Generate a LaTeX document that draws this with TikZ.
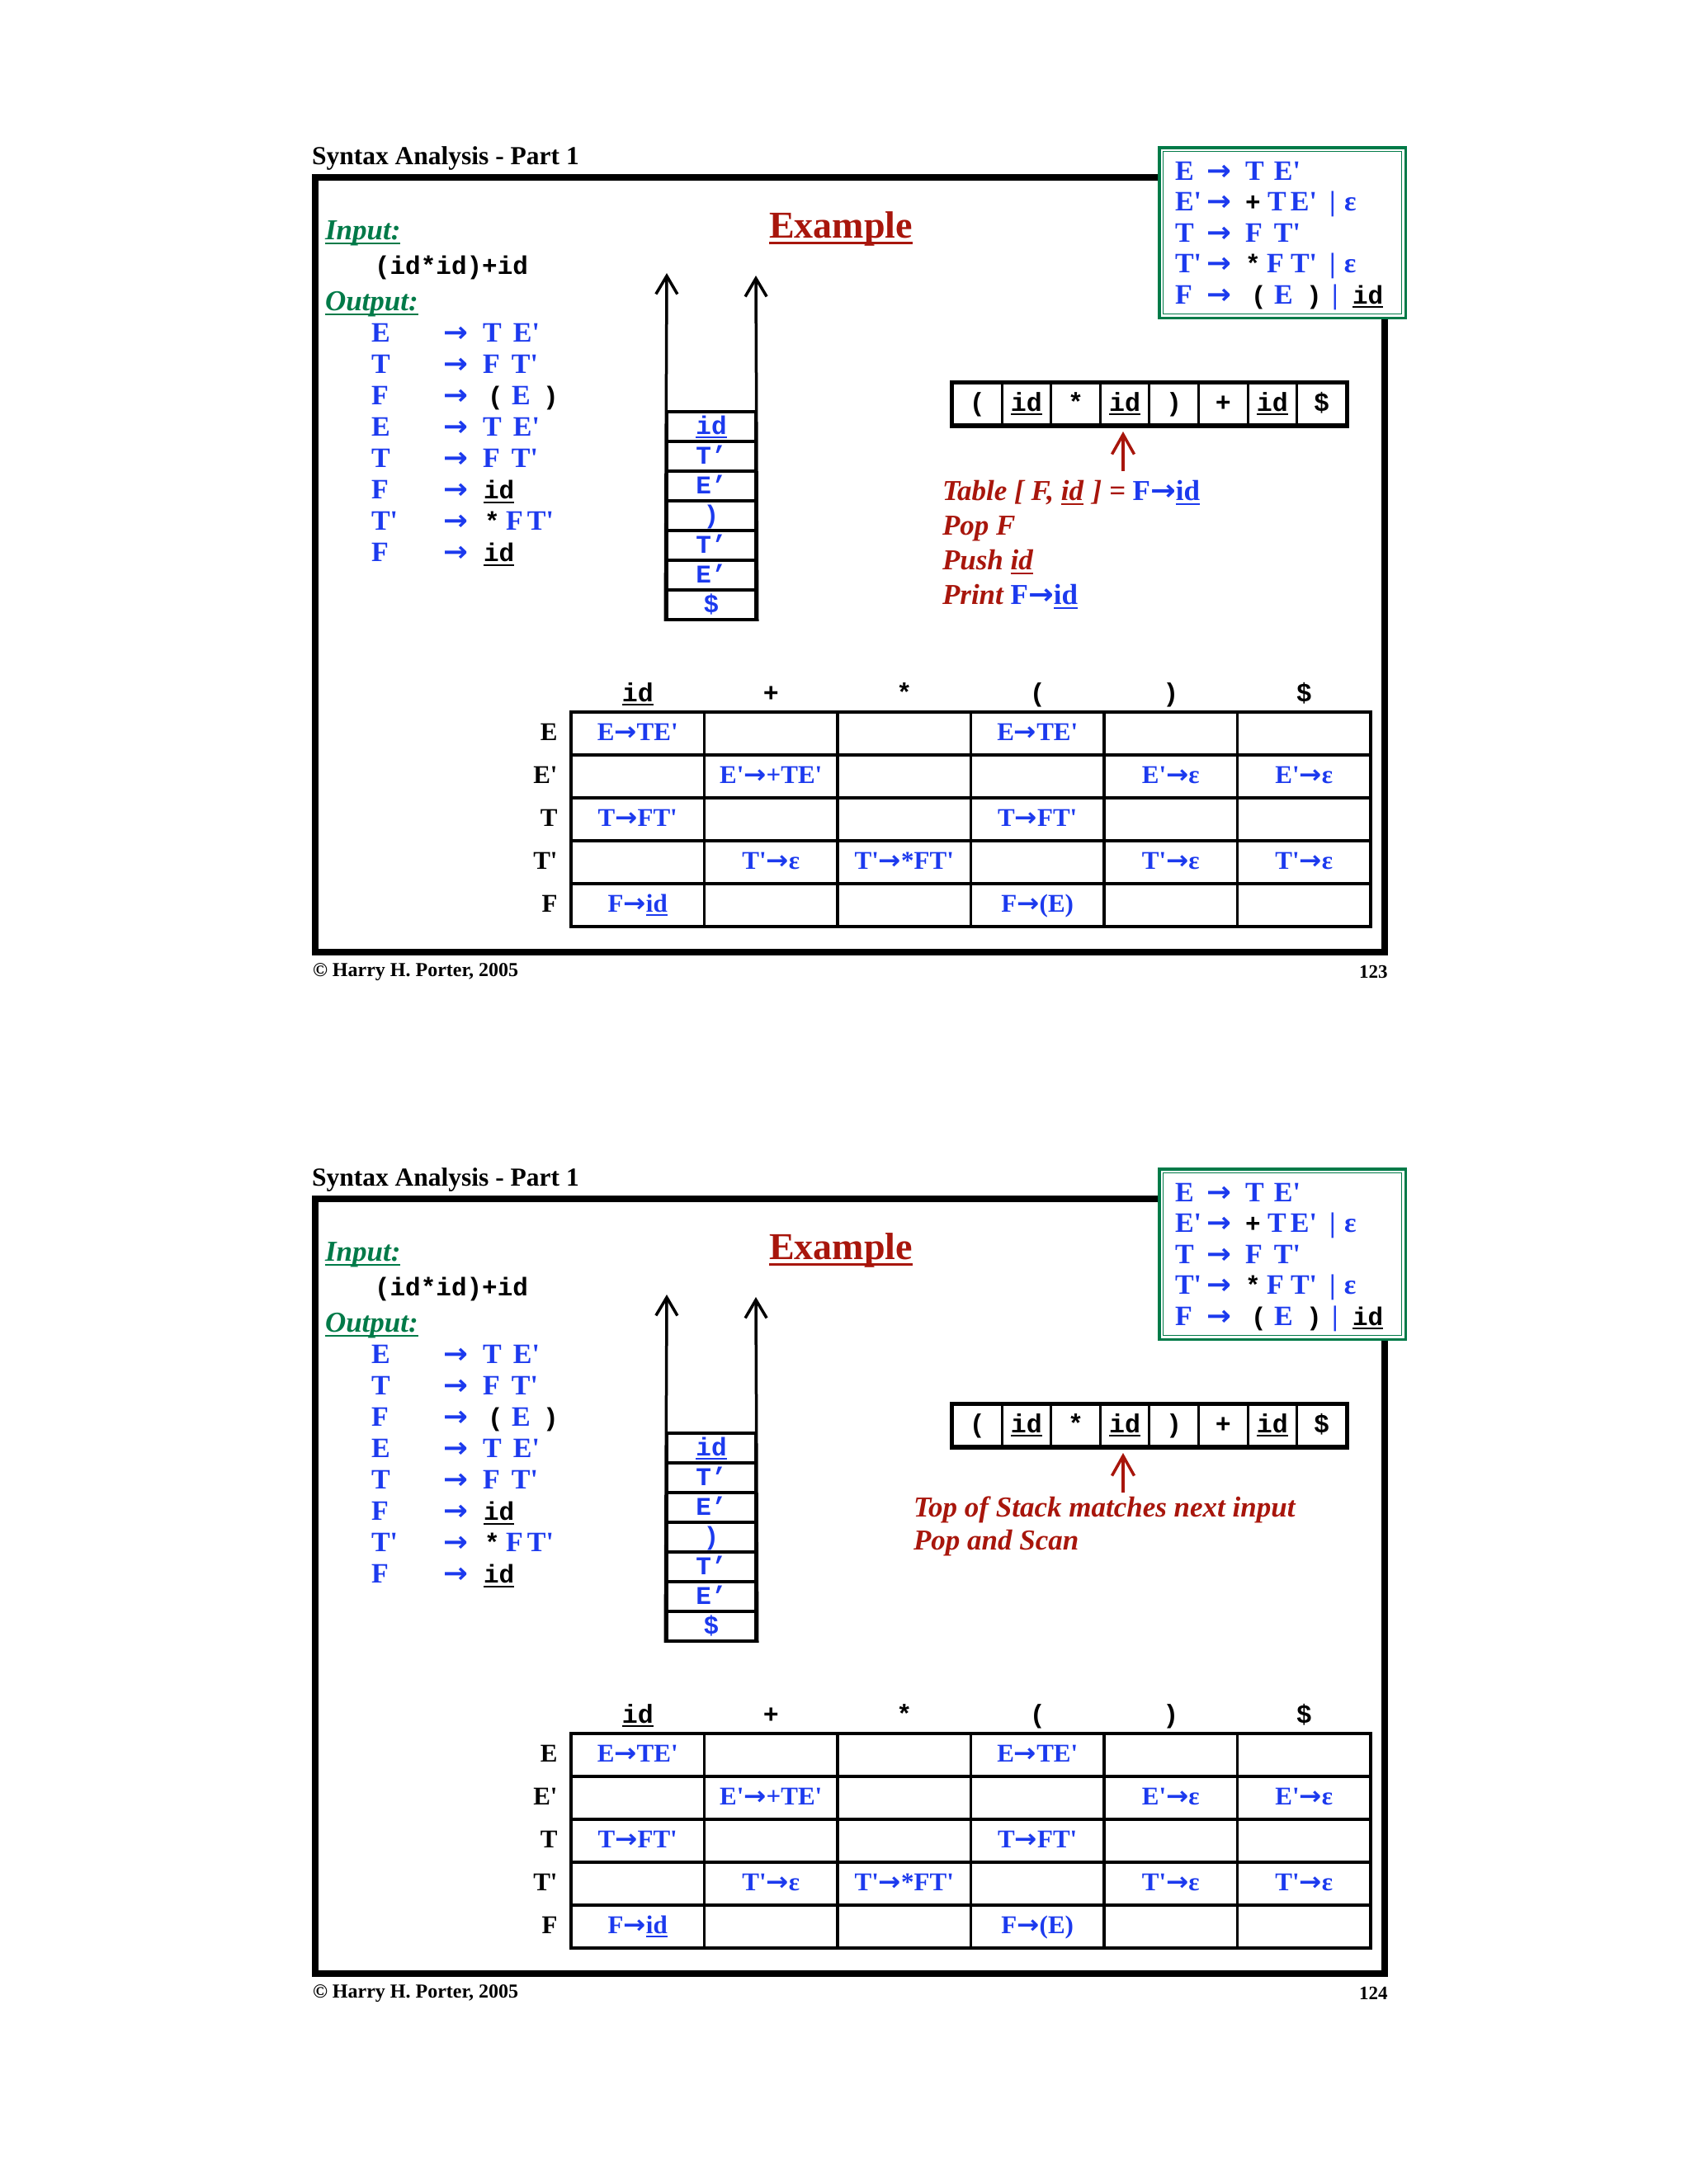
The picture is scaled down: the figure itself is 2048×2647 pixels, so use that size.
\documentclass[tikz,border=0pt]{standalone}
\usepackage{fontspec}
\usepackage{amsmath}
\usepackage{graphicx}
\usetikzlibrary{arrows.meta}
\newfontfamily\tms{Liberation Serif}
\newfontfamily\mon{Liberation Mono}
\newfontfamily\djv{DejaVu Sans}
\definecolor{pblue}{RGB}{28,58,238}
\definecolor{pred}{RGB}{168,22,12}
\definecolor{pgreen}{RGB}{0,122,72}
\newdimen\pxu \pxu=0.5pt
\newcommand\fsz[1]{\fontsize{#1}{#1}\selectfont}
\newcommand\und[1]{\setbox0\hbox{#1}\rlap{\rule[-0.17em]{\wd0}{0.065em}}\box0}
\newcommand\at[2]{\rlap{\hspace*{#1\pxu}#2}}
\newcommand\arr{\scalebox{1.05}[1]{\djv\bfseries →}}
\newcommand\mt{\color{black}\mon\fsz{15.5}}
\tikzset{
 lbl/.style={inner sep=0pt, outer sep=0pt, anchor=base west},
 slideframe/.style={line width=4pt},
 prod/.style={lbl, font=\tms\bfseries\fsz{17}, text=pblue},
 stkcell/.style={draw, line width=1.75pt, minimum width=54pt, minimum height=18pt, inner sep=0pt, text height=10pt, text depth=1pt, font=\mon\bfseries\fsz{15.5}, text=pblue},
 stkwall/.style={line width=1.75pt, -{Straight Barb[length=11pt,width=13pt]}},
 tapecell/.style={draw, line width=1.5pt, minimum width=29.8pt, minimum height=25pt, inner sep=0pt, text height=10pt, text depth=1.5pt, font=\mon\bfseries\fsz{15.8}},
 tcell/.style={draw, line width=1.75pt, minimum width=80.75pt, minimum height=26pt, inner sep=0pt, text height=9pt, text depth=1pt, font=\tms\bfseries\fsz{15.5}, text=pblue},
 thead/.style={inner sep=0pt, anchor=base, font=\mon\bfseries\fsz{15.8}},
 rlab/.style={inner sep=0pt, anchor=base east, font=\tms\bfseries\fsz{15.5}},
 redtxt/.style={lbl, font=\tms\bfseries\itshape\fsz{17.5}, text=pred},
 redarrow/.style={draw=pred, line width=1.75pt, -{Straight Barb[length=12pt,width=13.5pt]}},
}
\newcommand\slidecommon{%
 \node[lbl, font=\tms\bfseries\fsz{15.75}] (title) at (378,199) {Syntax Analysis - Part 1};
 \draw[slideframe] (382,215) rectangle (1678,1153.5);
 \node[lbl, font=\tms\bfseries\itshape\fsz{17.5}, text=pgreen] (inp) at (394,290) {\und{Input:}};
 \node[lbl, font=\mon\bfseries\fsz{15.5}] (inpstr) at (454,332) {(id*id)+id};
 \node[lbl, font=\tms\bfseries\itshape\fsz{17.5}, text=pgreen] (outp) at (394,376) {\und{Output:}};
 \node[prod] (p0) at (449,414) {\at{0}{E}\at{87}{\arr}\at{135}{T}\at{172}{E'}};
 \node[prod] (p1) at (449,452.1) {\at{0}{T}\at{87}{\arr}\at{135}{F}\at{170}{T'}};
 \node[prod] (p2) at (449,490.2) {\at{0}{F}\at{87}{\arr}\at{141}{\mt(}\at{170}{E}\at{208}{\mt)}};
 \node[prod] (p3) at (449,528.3) {\at{0}{E}\at{87}{\arr}\at{135}{T}\at{172}{E'}};
 \node[prod] (p4) at (449,566.4) {\at{0}{T}\at{87}{\arr}\at{135}{F}\at{170}{T'}};
 \node[prod] (p5) at (449,604.5) {\at{0}{F}\at{87}{\arr}\at{136}{\mt\und{id}}};
 \node[prod] (p6) at (449,642.6) {\at{0}{T'}\at{87}{\arr}\at{137}{\mt*}\at{163}{F}\at{189}{T'}};
 \node[prod] (p7) at (449,680.7) {\at{0}{F}\at{87}{\arr}\at{136}{\mt\und{id}}};
 \node[lbl, font=\tms\bfseries\fsz{23}, text=pred] (ex) at (932,288) {\und{Example}};
 \node[stkcell] (s0) at (862,517) {\und{id}};
 \node[stkcell] (s1) at (862,553) {T’};
 \node[stkcell] (s2) at (862,589) {E’};
 \node[stkcell] (s3) at (862,625) {)};
 \node[stkcell] (s4) at (862,661) {T’};
 \node[stkcell] (s5) at (862,697) {E’};
 \node[stkcell] (s6) at (862,733) {\$};
 \coordinate (sl) at (808,331);
 \coordinate (sr) at (916,334);
 \draw[stkwall] (s6.south west) -- (sl);
 \draw[stkwall] (s6.south east) -- (sr);
 \node[draw=pgreen, line width=1.75pt, fill=white, minimum width=149.25pt, minimum height=103.25pt, inner sep=0pt] (gbox) at (1554,282) {};
 \node[draw=pgreen, line width=0.65pt, minimum width=144.5pt, minimum height=98.5pt, inner sep=0pt] (gboxin) at (gbox.center) {};
 \node[prod] (g0) at (1423,218) {\at{0}{E}\at{38}{\arr}\at{85}{T}\at{120}{E'}};
 \node[prod] (g1) at (1423,255.5) {\at{0}{E'}\at{38}{\arr}\at{85}{\mt+}\at{112}{T}\at{140}{E'}\at{187}{|}\at{205}{ε}};
 \node[prod] (g2) at (1423,293) {\at{0}{T}\at{38}{\arr}\at{85}{F}\at{120}{T'}};
 \node[prod] (g3) at (1423,330.5) {\at{0}{T'}\at{38}{\arr}\at{85}{\mt*}\at{111}{F}\at{140}{T'}\at{187}{|}\at{205}{ε}};
 \node[prod] (g4) at (1423,368) {\at{0}{F}\at{38}{\arr}\at{92}{\mt(}\at{120}{E}\at{159}{\mt)}\at{190}{|}\at{215}{\mt\und{id}}};
 \node[tapecell] (tp0) at (1184.3,489.5) {(};
 \node[tapecell] (tp1) at (1243.9,489.5) {\und{id}};
 \node[tapecell] (tp2) at (1303.5,489.5) {*};
 \node[tapecell] (tp3) at (1363.1,489.5) {\und{id}};
 \node[tapecell] (tp4) at (1422.7,489.5) {)};
 \node[tapecell] (tp5) at (1482.3,489.5) {+};
 \node[tapecell] (tp6) at (1541.9,489.5) {\und{id}};
 \node[tapecell] (tp7) at (1601.5,489.5) {\$};
 \draw[line width=2.5pt] (tp0.north west) rectangle (tp7.south east);
 \coordinate (rat) at (1361,571);
 \coordinate (rah) at (1361,523);
 \draw[redarrow] (rat) -- (rah);
 \node[thead] (h0) at (772.75,850) {\und{id}};
 \node[thead] (h1) at (934.25,850) {+};
 \node[thead] (h2) at (1095.75,850) {*};
 \node[thead] (h3) at (1257.25,850) {(};
 \node[thead] (h4) at (1418.75,850) {)};
 \node[thead] (h5) at (1580.25,850) {\$};
 \node[rlab] (l0) at (676,897) {E};
 \node[rlab] (l1) at (676,949) {E'};
 \node[rlab] (l2) at (676,1001) {T};
 \node[rlab] (l3) at (676,1053) {T'};
 \node[rlab] (l4) at (676,1105) {F};
 \node[tcell] (t00) at (772.75,889) {E\arr TE'};
 \node[tcell] (t01) at (934.25,889) {};
 \node[tcell] (t02) at (1095.75,889) {};
 \node[tcell] (t03) at (1257.25,889) {E\arr TE'};
 \node[tcell] (t04) at (1418.75,889) {};
 \node[tcell] (t05) at (1580.25,889) {};
 \node[tcell] (t10) at (772.75,941) {};
 \node[tcell] (t11) at (934.25,941) {E'\arr+TE'};
 \node[tcell] (t12) at (1095.75,941) {};
 \node[tcell] (t13) at (1257.25,941) {};
 \node[tcell] (t14) at (1418.75,941) {E'\arr ε};
 \node[tcell] (t15) at (1580.25,941) {E'\arr ε};
 \node[tcell] (t20) at (772.75,993) {T\arr FT'};
 \node[tcell] (t21) at (934.25,993) {};
 \node[tcell] (t22) at (1095.75,993) {};
 \node[tcell] (t23) at (1257.25,993) {T\arr FT'};
 \node[tcell] (t24) at (1418.75,993) {};
 \node[tcell] (t25) at (1580.25,993) {};
 \node[tcell] (t30) at (772.75,1045) {};
 \node[tcell] (t31) at (934.25,1045) {T'\arr ε};
 \node[tcell] (t32) at (1095.75,1045) {T'\arr*FT'};
 \node[tcell] (t33) at (1257.25,1045) {};
 \node[tcell] (t34) at (1418.75,1045) {T'\arr ε};
 \node[tcell] (t35) at (1580.25,1045) {T'\arr ε};
 \node[tcell] (t40) at (772.75,1097) {F\arr\und{id}};
 \node[tcell] (t41) at (934.25,1097) {};
 \node[tcell] (t42) at (1095.75,1097) {};
 \node[tcell] (t43) at (1257.25,1097) {F\arr(E)};
 \node[tcell] (t44) at (1418.75,1097) {};
 \node[tcell] (t45) at (1580.25,1097) {};
 \node[lbl, font=\tms\bfseries\fsz{12}] (copy) at (379,1183) {© Harry H. Porter, 2005};
}
\begin{document}
\begin{tikzpicture}[x=0.5pt,y=-0.5pt]
\path[use as bounding box, fill=white] (0,0) rectangle (2048,2647);
\begin{scope}[name prefix=a-]
\slidecommon
\node[inner sep=0pt, anchor=base east, font=\tms\bfseries\fsz{11.5}] (pg) at (1682,1185) {123};
\node[redtxt] (r0) at (1142,606) {Table [ F, \und{id}\hspace{0.3em}] = {\color{pblue}\upshape F\arr\und{id}}};
\node[redtxt] (r1) at (1142,648) {Pop F};
\node[redtxt] (r2) at (1142,690) {Push \und{id}};
\node[redtxt] (r3) at (1142,732) {Print {\color{pblue}\upshape F\arr\und{id}}};
\end{scope}
\begin{scope}[shift={(0,1238)}, name prefix=b-]
\slidecommon
\node[inner sep=0pt, anchor=base east, font=\tms\bfseries\fsz{11.5}] (pg) at (1682,1185) {124};
\node[redtxt] (r0) at (1107,600) {Top of Stack matches next input};
\node[redtxt] (r1) at (1107,640) {Pop and Scan};
\end{scope}
\end{tikzpicture}
\end{document}
